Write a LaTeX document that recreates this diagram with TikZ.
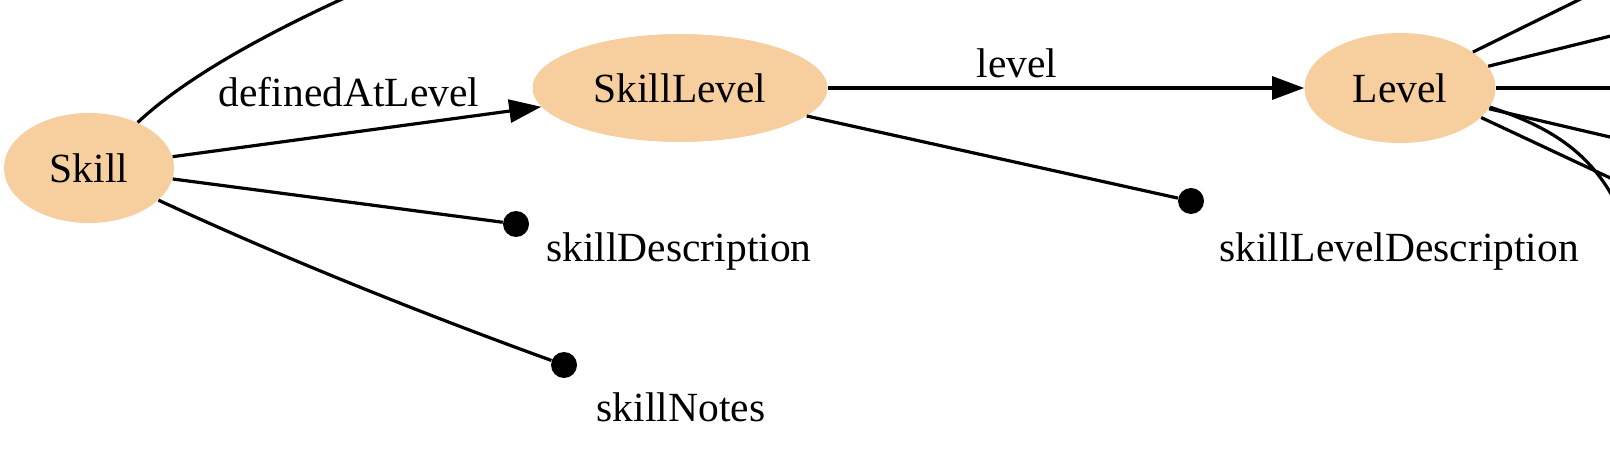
\documentclass[tikz,border=0pt]{standalone}
\usepackage{fontspec}
\setmainfont{Liberation Serif}
\usetikzlibrary{arrows.meta,shapes.geometric}
\definecolor{classfill}{RGB}{247,207,159}
\def\labelfont{\fontsize{20.75}{24}\selectfont}
\tikzset{
	classnode/.style={ellipse, fill=classfill, inner sep=0pt, font=\labelfont},
	propdot/.style={circle, fill=black, inner sep=0pt, minimum size=13pt},
	proplabel/.style={anchor=base, inner sep=0pt, font=\labelfont},
	relline/.style={line width=1.6pt, color=black},
	relarrow/.style={relline, -{Triangle[length=16pt, width=11.5pt]}}
}

\begin{document}
\begin{tikzpicture}[x=0.5pt, y=-0.5pt]
			%%%%% START %%%%%
			\useasboundingbox (0,0) rectangle (1610,454);
			\clip (0,0) rectangle (1610,454);
			
			\node[classnode, minimum width=85pt, minimum height=55pt] (Skill) at (89,168) {Skill};
			\node[classnode, minimum width=147.5pt, minimum height=54pt] (SkillLevel) at (680,88) {SkillLevel};
			\node[classnode, minimum width=95.5pt, minimum height=55pt] (Level) at (1400,88) {Level};
			
			\node[propdot] (sDesc) at (516,224) {};
			\node[propdot] (sNotes) at (564,365) {};
			\node[propdot] (slDesc) at (1191,201) {};
			
			\node[proplabel] (sDescLabel) at (679,262) {skillDescription};
			\node[proplabel] (sNotesLabel) at (681,421) {skillNotes};
			\node[proplabel] (slDescLabel) at (1399,262) {skillLevelDescription};
			\node[proplabel] (definedLabel) at (349,107) {definedAtLevel};
			\node[proplabel] (levelLabel) at (1017,78) {level};
			
			% edges leaving the frame
			\coordinate (skillUp) at (362,-10);
			\coordinate (lvA) at (1680,-50);
			\coordinate (lvB) at (1700,14);
			\coordinate (lvC) at (1700,88);
			\coordinate (lvD) at (1700,158);
			\coordinate (lvE) at (1630,240);
			\coordinate (lvF) at (1700,220);
			
			\draw[relarrow] (Skill) -- (SkillLevel);
			\draw[relarrow] (SkillLevel) -- (Level);
			
			\draw[relline] (Skill) .. controls (182,81) and (257,37) .. (skillUp);
			\draw[relline] (Skill) -- (sDesc);
			\draw[relline] (Skill) .. controls (279,256) and (415,311) .. (sNotes);
			\draw[relline] (SkillLevel) -- (slDesc);
			
			\draw[relline] (Level) -- (lvA);
			\draw[relline] (Level) -- (lvB);
			\draw[relline] (Level) -- (lvC);
			\draw[relline] (Level) -- (lvD);
			\draw[relline] (Level.-12) .. controls (1540,124) and (1605,150) .. (lvE);
			\draw[relline] (Level.-20) -- (lvF);
			
			%%%%% END %%%%%
		\end{tikzpicture}
\end{document}
